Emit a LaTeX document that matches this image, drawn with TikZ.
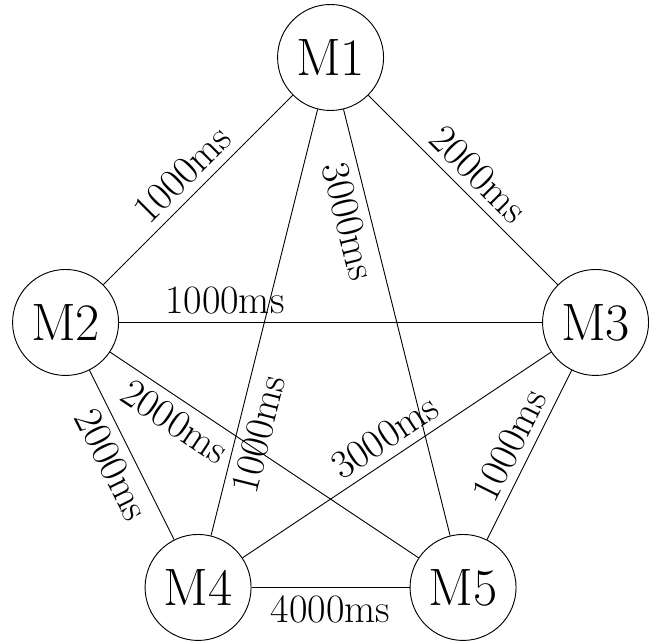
\documentclass[tikz,border=0pt]{standalone}
\usepackage{amssymb,amsmath}
\usepackage{tikz}

\begin{document}
\begin{tikzpicture}[
    machine/.style={circle,draw,minimum size=1.6cm,inner sep=0pt,font=\fontsize{22.6}{27}\selectfont},
    delay/.style={sloped,font=\LARGE}]
\useasboundingbox (-4.99,-4.807) rectangle (4.807,4.868);
\node[machine] (m1) at (0,4) {M1};
\node[machine] (m2) at (-4,0) {M2};
\node[machine] (m3) at (4,0) {M3};
\node[machine] (m4) at (-2,-4) {M4};
\node[machine] (m5) at (2,-4) {M5};
\draw (m1) -- node[delay,above] {1000ms} (m2);
\draw (m1) -- node[delay,above] {2000ms} (m3);
\draw (m1) -- node[delay,below,pos=0.75] {1000ms} (m4);
\draw (m1) -- node[delay,below,pos=0.25] {3000ms} (m5);
\draw (m2) -- node[delay,above,pos=0.25] {1000ms} (m3);
\draw (m2) -- node[delay,below] {2000ms} (m4);
\draw (m2) -- node[delay,below,pos=0.25] {2000ms} (m5);
\draw (m3) -- node[delay,above] {3000ms} (m4);
\draw (m3) -- node[delay,above] {1000ms} (m5);
\draw (m4) -- node[delay,below] {4000ms} (m5);
\end{tikzpicture}
\end{document}
